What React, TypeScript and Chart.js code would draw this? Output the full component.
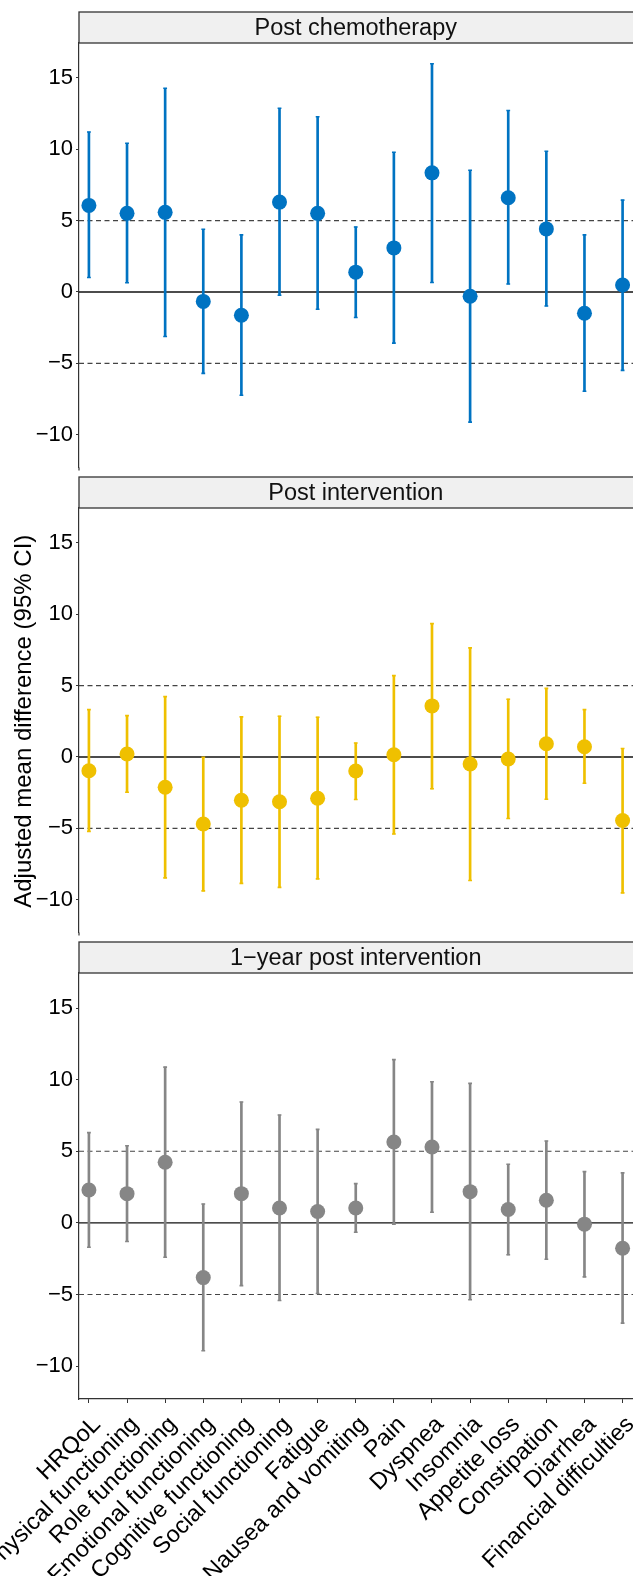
import React, { useEffect, useRef } from 'react';
import { Chart, registerables } from 'chart.js';

Chart.register(...registerables);

const categories = [
  'HRQoL',
  'Physical functioning',
  'Role functioning',
  'Emotional functioning',
  'Cognitive functioning',
  'Social functioning',
  'Fatigue',
  'Nausea and vomiting',
  'Pain',
  'Dyspnea',
  'Insomnia',
  'Appetite loss',
  'Constipation',
  'Diarrhea',
  'Financial difficulties',
];

const panelTitles = ['Post chemotherapy', 'Post intervention', '1\u2212year post intervention'];
const panelColors = ['#0073C2', '#EFC000', '#868686'];

const postChemoEst = [6.07, 5.51, 5.58, -0.66, -1.63, 6.3, 5.51, 1.39, 3.09, 8.35, -0.3, 6.6, 4.42, -1.49, 0.49];
const postChemoLow = [1.02, 0.65, -3.12, -5.7, -7.24, -0.23, -1.21, -1.79, -3.58, 0.67, -9.12, 0.56, -0.98, -6.96, -5.49];
const postChemoHigh = [11.21, 10.42, 14.28, 4.4, 4.0, 12.88, 12.28, 4.56, 9.79, 16.0, 8.53, 12.72, 9.86, 4.0, 6.44];

const postIntEst = [-0.96, 0.21, -2.12, -4.7, -3.03, -3.14, -2.89, -0.98, 0.16, 3.58, -0.49, -0.14, 0.93, 0.72, -4.45];
const postIntLow = [-5.21, -2.47, -8.47, -9.38, -8.86, -9.14, -8.54, -2.98, -5.4, -2.23, -8.66, -4.31, -2.96, -1.84, -9.52];
const postIntHigh = [3.32, 2.9, 4.23, -0.02, 2.81, 2.86, 2.79, 0.98, 5.7, 9.35, 7.65, 4.05, 4.81, 3.32, 0.6];

const oneYearEst = [2.3, 2.04, 4.23, -3.82, 2.04, 1.04, 0.79, 1.04, 5.65, 5.3, 2.18, 0.93, 1.58, -0.09, -1.77];
const oneYearLow = [-1.7, -1.3, -2.4, -8.93, -4.38, -5.42, -4.93, -0.65, -0.09, 0.74, -5.37, -2.23, -2.54, -3.77, -7.0];
const oneYearHigh = [6.3, 5.39, 10.88, 1.32, 8.44, 7.53, 6.53, 2.74, 11.4, 9.86, 9.74, 4.09, 5.72, 3.58, 3.49];

const yTicks = [-10, -5, 0, 5, 10, 15];
const dashedRefs = [-5, 5];
const solidRefs = [0];
const yTitle = 'Adjusted mean difference (95% CI)';

const estimates = [postChemoEst, postIntEst, oneYearEst];
const lows = [postChemoLow, postIntLow, oneYearLow];
const highs = [postChemoHigh, postIntHigh, oneYearHigh];

const FONT = "'Liberation Sans', Arial, Helvetica, sans-serif";
const Y_MIN = -12.3;
const Y_MAX = 17.45;
const X_MIN = -0.26;
const X_MAX = 14.26;
const CANVAS_W = 640;
const PLOT_H = 426;
const TOP_PAD = 35;
const STRIP_H = 31;
const PLOT_TOPS = [43, 508, 973];
const PAGE_H = 1576;

function fmtTick(v: number) {
  return v < 0 ? '\u2212' + Math.abs(v) : String(v);
}

function Panel({ idx }: { idx: number }) {
  const ref = useRef<HTMLCanvasElement | null>(null);
  const isBottom = idx === 2;
  const canvasTop = PLOT_TOPS[idx] - TOP_PAD;
  const canvasH = isBottom ? PAGE_H - canvasTop : TOP_PAD + PLOT_H + 6;
  const xHeight = isBottom ? canvasH - TOP_PAD - PLOT_H : 0;

  useEffect(() => {
    const est = estimates[idx];
    const lo = lows[idx];
    const hi = highs[idx];
    const color = panelColors[idx];
    const title = panelTitles[idx];

    const decor = {
      id: 'decor' + idx,
      beforeDatasetsDraw(chart: any) {
        const { ctx, chartArea } = chart;
        const { left, top, bottom } = chartArea;
        const y = chart.scales.y;
        ctx.save();
        ctx.beginPath();
        ctx.rect(left, top, chart.width - left, bottom - top);
        ctx.clip();
        dashedRefs.forEach((v) => {
          const py = y.getPixelForValue(v);
          ctx.setLineDash([5, 3.5]);
          ctx.strokeStyle = '#444';
          ctx.lineWidth = 1.15;
          ctx.beginPath();
          ctx.moveTo(left, py);
          ctx.lineTo(chart.width, py);
          ctx.stroke();
        });
        solidRefs.forEach((v) => {
          const py = y.getPixelForValue(v);
          ctx.setLineDash([]);
          ctx.strokeStyle = '#111';
          ctx.lineWidth = 1.3;
          ctx.beginPath();
          ctx.moveTo(left, py);
          ctx.lineTo(chart.width, py);
          ctx.stroke();
        });
        ctx.restore();
      },
      afterDraw(chart: any) {
        const { ctx, chartArea } = chart;
        const { left, right, top, bottom } = chartArea;
        ctx.save();
        if (!isBottom) {
          ctx.strokeStyle = '#333';
          ctx.lineWidth = 1.2;
          ctx.beginPath();
          ctx.moveTo(left, bottom);
          ctx.lineTo(left, bottom + 3);
          ctx.stroke();
        }
        ctx.fillStyle = '#F0F0F0';
        ctx.fillRect(left, top - STRIP_H, chart.width - left + 2, STRIP_H);
        ctx.strokeStyle = '#333';
        ctx.lineWidth = 1.3;
        ctx.strokeRect(left, top - STRIP_H, chart.width - left + 5, STRIP_H);
        ctx.fillStyle = '#111';
        ctx.font = `23.5px ${FONT}`;
        ctx.textAlign = 'center';
        ctx.textBaseline = 'middle';
        ctx.fillText(title, (left + right) / 2, top - STRIP_H / 2 + 1);
        if (idx === 1) {
          ctx.translate(24, (top + bottom) / 2 + 1);
          ctx.rotate(-Math.PI / 2);
          ctx.font = `24px ${FONT}`;
          ctx.fillStyle = '#000';
          ctx.textAlign = 'center';
          ctx.textBaseline = 'middle';
          ctx.fillText(yTitle, 0, 0);
        }
        ctx.restore();
      },
    };

    const chart = new Chart(ref.current as HTMLCanvasElement, {
      type: 'scatter',
      data: {
        datasets: [
          {
            type: 'scatter',
            data: est.map((v, i) => ({ x: i, y: v })),
            pointRadius: 7.5,
            pointHoverRadius: 7.5,
            pointBackgroundColor: color,
            pointBorderWidth: 0,
            backgroundColor: color,
            borderColor: color,
          } as any,
          {
            type: 'scatter',
            data: [...lo.map((v, i) => ({ x: i, y: v })), ...hi.map((v, i) => ({ x: i, y: v }))],
            pointStyle: 'line',
            pointRadius: 1.9,
            pointHoverRadius: 1.9,
            pointBorderColor: color,
            pointBorderWidth: 1.6,
            borderColor: color,
            backgroundColor: color,
          } as any,
          {
            type: 'bar',
            data: categories.map((_, i) => ({ x: i, y: [lo[i], hi[i]] })),
            backgroundColor: color,
            borderWidth: 0,
            barThickness: 2,
          } as any,
        ],
      },
      options: {
        animation: false,
        responsive: false,
        maintainAspectRatio: false,
        events: [],
        layout: { padding: { top: TOP_PAD, bottom: isBottom ? 0 : 6, left: 0, right: 4.7 } },
        plugins: {
          legend: { display: false },
          tooltip: { enabled: false },
        },
        scales: {
          x: {
            type: 'linear',
            display: isBottom,
            offset: false,
            min: X_MIN,
            max: X_MAX,
            afterBuildTicks: (s: any) => {
              s.ticks = categories.map((_, i) => ({ value: i }));
            },
            afterFit: (s: any) => {
              s.height = xHeight;
              s.paddingLeft = 0;
              s.paddingRight = 0;
            },
            ticks: {
              autoSkip: false,
              maxRotation: 45,
              minRotation: 45,
              padding: 8,
              labelOffset: 8,
              color: '#000',
              font: { family: FONT, size: 23.5 },
              callback: (v: any) => categories[Math.round(Number(v))] ?? '',
            },
            grid: { offset: false, drawOnChartArea: false, drawTicks: true, tickLength: 4, color: '#333' },
            border: { display: true, color: '#333', width: 1.2 },
          },
          y: {
            type: 'linear',
            min: Y_MIN,
            max: Y_MAX,
            afterBuildTicks: (s: any) => {
              s.ticks = yTicks.map((v) => ({ value: v }));
            },
            afterFit: (s: any) => {
              s.width = 79;
              s.paddingTop = 0;
              s.paddingBottom = 0;
            },
            ticks: {
              padding: 3,
              color: '#000',
              font: { family: FONT, size: 22 },
              callback: (v: any) => fmtTick(Number(v)),
            },
            grid: { drawOnChartArea: false, drawTicks: true, tickLength: 3, color: '#333' },
            border: { display: true, color: '#333', width: 1.2 },
          },
        },
      } as any,
      plugins: [decor],
    });
    return () => chart.destroy();
  }, [idx]);

  return (
    <canvas
      ref={ref}
      width={CANVAS_W}
      height={canvasH}
      style={{ position: 'absolute', left: 0, top: canvasTop, width: CANVAS_W, height: canvasH, display: 'block' }}
    />
  );
}

export default function App() {
  return (
    <div
      style={{
        position: 'absolute',
        left: 0,
        top: 0,
        width: 633,
        height: PAGE_H,
        overflow: 'hidden',
        background: '#fff',
      }}
    >
      {[0, 1, 2].map((i) => (
        <Panel key={i} idx={i} />
      ))}
    </div>
  );
}
